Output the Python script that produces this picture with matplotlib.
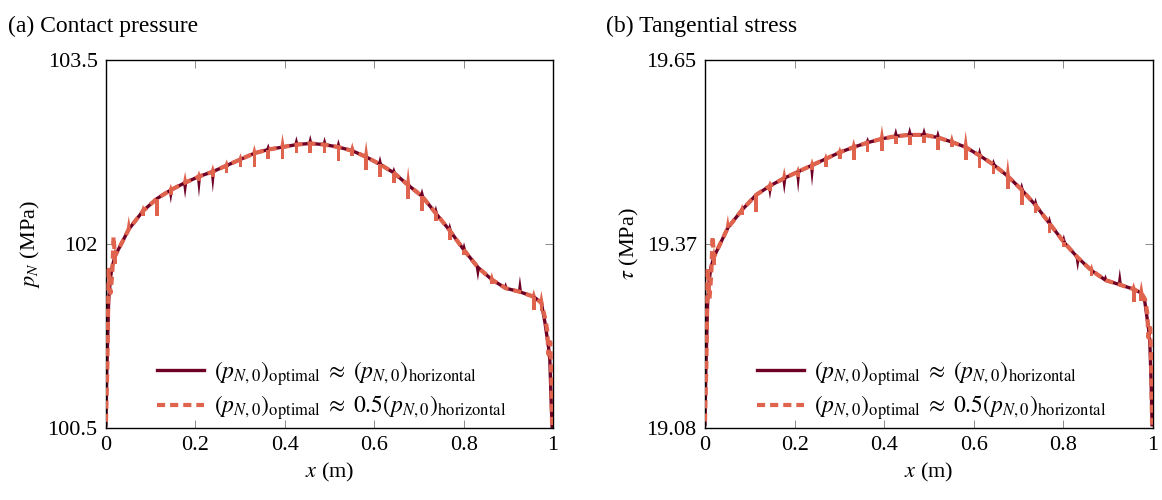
import matplotlib.pyplot as plt
import numpy as np

plt.rcParams["font.family"] = ["Liberation Serif", "DejaVu Serif"]
plt.rcParams["mathtext.fontset"] = "stix"
plt.rcParams["font.size"] = 16

DARK = "#6e0026"
ORANGE = "#e0634d"

# element boundaries along the contact (m)
X_NODES = [0.020, 0.051, 0.083, 0.114, 0.145, 0.177, 0.208, 0.239, 0.270, 0.301,
           0.332, 0.363, 0.395, 0.426, 0.457, 0.489, 0.520, 0.551, 0.582, 0.613,
           0.644, 0.676, 0.707, 0.738, 0.769, 0.801, 0.832, 0.863, 0.894, 0.926,
           0.957, 0.974]

# (a) contact pressure (MPa)
P_BASE = [101.90, 102.12, 102.27, 102.37, 102.44, 102.50, 102.55, 102.59, 102.64, 102.69,
          102.74, 102.77, 102.79, 102.81, 102.82, 102.81, 102.79, 102.76, 102.71, 102.65,
          102.58, 102.48, 102.39, 102.25, 102.11, 101.95, 101.81, 101.71, 101.64, 101.61,
          101.57, 101.52]
P_SOLID_SPIKE = [0, 0, 0, 0, -0.11, -0.13, -0.17, -0.17, -0.05, 0,
                 0, 0.05, 0, 0.07, 0.07, 0.065, 0.065, 0.05, 0, 0.07,
                 0.05, 0, 0.065, 0.065, 0.065, 0.065, -0.11, 0, 0.05, 0.13,
                 0, 0]
P_DASH_UP = [0.08, 0.11, 0.05, 0, 0.05, 0.09, 0.05, 0.06, 0.05, 0.05,
             0.07, 0, 0.11, 0, 0, 0, 0, 0.07, 0.13, 0,
             0, 0.15, 0, 0, 0, 0, 0, 0.06, 0, 0,
             0.06, 0.10]
P_DASH_DOWN = [0.065, 0, 0.04, 0.14, 0.04, 0, 0.04, 0.04, 0.065, 0.06,
               0.11, 0.08, 0.10, 0.065, 0.08, 0.065, 0.11, 0.04, 0.11, 0.10,
               0.08, 0.11, 0.12, 0.065, 0.08, 0.04, 0, 0.04, 0, 0,
               0.11, 0.065]
P_LEFT_X = [0.0, 0.002, 0.006, 0.010, 0.013]
P_LEFT_SOLID = [100.52, 100.97, 101.54, 101.72, 101.80]
P_LEFT_DASH_X = [0.0, 0.003, 0.006, 0.010, 0.014, 0.017]
P_LEFT_DASH = [100.55, 101.00, 101.79, 101.60, 101.75, 102.06]
P_RIGHT_X = [0.982, 0.990, 0.993, 0.996, 0.998]
P_RIGHT_SOLID = [101.36, 101.16, 101.05, 100.70, 100.51]
P_RIGHT_DASH_X = [0.982, 0.987, 0.990, 0.994, 0.996, 0.998]
P_RIGHT_DASH = [101.40, 101.30, 101.10, 101.20, 100.95, 100.51]

# (b) tangential stress (MPa)
T_BASE = [19.345, 19.390, 19.418, 19.441, 19.455, 19.467, 19.477, 19.487, 19.497, 19.507,
          19.515, 19.522, 19.528, 19.532, 19.534, 19.534, 19.530, 19.523, 19.515, 19.502,
          19.488, 19.470, 19.449, 19.425, 19.397, 19.368, 19.344, 19.324, 19.309, 19.302,
          19.295, 19.289]
T_SOLID_SPIKE = [0, 0, 0, 0, -0.021, -0.025, -0.033, -0.033, -0.009, 0,
                 0, 0.009, 0, 0.013, 0.013, 0.012, 0.012, 0.009, 0, 0.013,
                 0.009, 0, 0.012, 0.012, 0.012, 0.012, -0.021, 0, 0.009, 0.025,
                 0, 0]
T_DASH_UP = [0.015, 0.02, 0.009, 0, 0.009, 0.017, 0.009, 0.011, 0.009, 0.009,
             0.013, 0, 0.021, 0, 0, 0, 0, 0.013, 0.025, 0,
             0, 0.028, 0, 0, 0, 0, 0, 0.011, 0, 0,
             0.011, 0.019]
T_DASH_DOWN = [0.012, 0, 0.008, 0.026, 0.008, 0, 0.008, 0.008, 0.012, 0.011,
               0.02, 0.015, 0.019, 0.012, 0.015, 0.012, 0.02, 0.008, 0.02, 0.019,
               0.015, 0.02, 0.023, 0.012, 0.015, 0.008, 0, 0.008, 0, 0,
               0.02, 0.012]
T_LEFT_X = [0.0, 0.002, 0.006, 0.010, 0.013]
T_LEFT_SOLID = [19.085, 19.17, 19.278, 19.312, 19.328]
T_LEFT_DASH_X = [0.0, 0.003, 0.006, 0.010, 0.014, 0.017]
T_LEFT_DASH = [19.09, 19.175, 19.327, 19.28, 19.318, 19.377]
T_RIGHT_X = [0.982, 0.990, 0.993, 0.996, 0.998]
T_RIGHT_SOLID = [19.275, 19.235, 19.215, 19.15, 19.085]
T_RIGHT_DASH_X = [0.982, 0.987, 0.990, 0.994, 0.996, 0.998]
T_RIGHT_DASH = [19.28, 19.26, 19.22, 19.235, 19.18, 19.085]

X_TICKS = [0, 0.2, 0.4, 0.6, 0.8, 1]
X_TICK_LABELS = ["0", "0.2", "0.4", "0.6", "0.8", "1"]

LABEL_1 = r"$(p_{N,0})_{\mathrm{optimal}}\;\approx\;(p_{N,0})_{\mathrm{horizontal}}$"
LABEL_2 = r"$(p_{N,0})_{\mathrm{optimal}}\;\approx\;0.5(p_{N,0})_{\mathrm{horizontal}}$"

HALF_W = 0.0048   # half width of a spike at its root (m)


def spikes(ax, base, delta, color, z, block=False):
    """Overshoots at the element boundaries: pointed triangles, or dash-like blocks."""
    for xn, b, d in zip(X_NODES, base, delta):
        if d == 0:
            continue
        if block:
            w = HALF_W * 0.85
            ax.fill([xn - w, xn - w, xn + w, xn + w], [b, b + d, b + d, b],
                    color=color, lw=0, zorder=z)
        else:
            ax.fill([xn - HALF_W, xn, xn + HALF_W], [b, b + d, b],
                    color=color, lw=0, zorder=z)


def panel(ax, title, ylabel, ylim, yticks, yticklabels,
          base, sspike, dup, ddown, lx, ls, ldx, ld, rx, rs, rdx, rd):
    xs = np.concatenate([lx, X_NODES, rx])
    ys = np.concatenate([ls, base, rs])
    ax.plot(xs, ys, color=DARK, lw=2.4, label=LABEL_1, zorder=2)
    spikes(ax, base, sspike, DARK, 2.5)

    xd = np.concatenate([ldx, X_NODES, rdx])
    yd = np.concatenate([ld, base, rd])
    ax.plot(xd, yd, color=ORANGE, lw=3.0, ls=(0, (1.95, 1.2)),
            dash_capstyle="butt", label=LABEL_2, zorder=3)
    spikes(ax, base, dup, ORANGE, 3.5)
    spikes(ax, base, [-d for d in ddown], ORANGE, 3.5, block=True)

    ax.set_xlim(0, 1)
    ax.set_ylim(*ylim)
    ax.set_xticks(X_TICKS)
    ax.set_xticklabels(X_TICK_LABELS)
    ax.set_yticks(yticks)
    ax.set_yticklabels(yticklabels)
    ax.tick_params(direction="in", top=True, right=True, length=6, width=0.6,
                   color="#777777", labelsize=16, pad=6)
    for s in ax.spines.values():
        s.set_linewidth(1.0)
    ax.set_xlabel(r"$x$ (m)", fontsize=16, labelpad=4)
    ax.set_ylabel(ylabel, fontsize=16, labelpad=4)
    ax.legend(loc="lower right", bbox_to_anchor=(0.895, 0.015), frameon=False,
              fontsize=17, handlelength=2.0, handletextpad=0.4, labelspacing=0.25,
              borderaxespad=0.0, borderpad=0.0)
    ax.text(-0.22, 1.09, title, transform=ax.transAxes, fontsize=17,
            ha="left", va="center")


fig = plt.figure(figsize=(11.62, 5.0), dpi=100)
ax1 = fig.add_axes([0.0912, 0.144, 0.3847, 0.736])
ax2 = fig.add_axes([0.6067, 0.144, 0.3855, 0.736])

panel(ax1, "(a) Contact pressure", r"$p_N$ (MPa)", (100.5, 103.5),
      [100.5, 102, 103.5], ["100.5", "102", "103.5"],
      P_BASE, P_SOLID_SPIKE, P_DASH_UP, P_DASH_DOWN,
      P_LEFT_X, P_LEFT_SOLID, P_LEFT_DASH_X, P_LEFT_DASH,
      P_RIGHT_X, P_RIGHT_SOLID, P_RIGHT_DASH_X, P_RIGHT_DASH)
panel(ax2, "(b) Tangential stress", r"$\tau$ (MPa)", (19.08, 19.65),
      [19.08, 19.365, 19.65], ["19.08", "19.37", "19.65"],
      T_BASE, T_SOLID_SPIKE, T_DASH_UP, T_DASH_DOWN,
      T_LEFT_X, T_LEFT_SOLID, T_LEFT_DASH_X, T_LEFT_DASH,
      T_RIGHT_X, T_RIGHT_SOLID, T_RIGHT_DASH_X, T_RIGHT_DASH)

fig.savefig("out.png", dpi=100)
